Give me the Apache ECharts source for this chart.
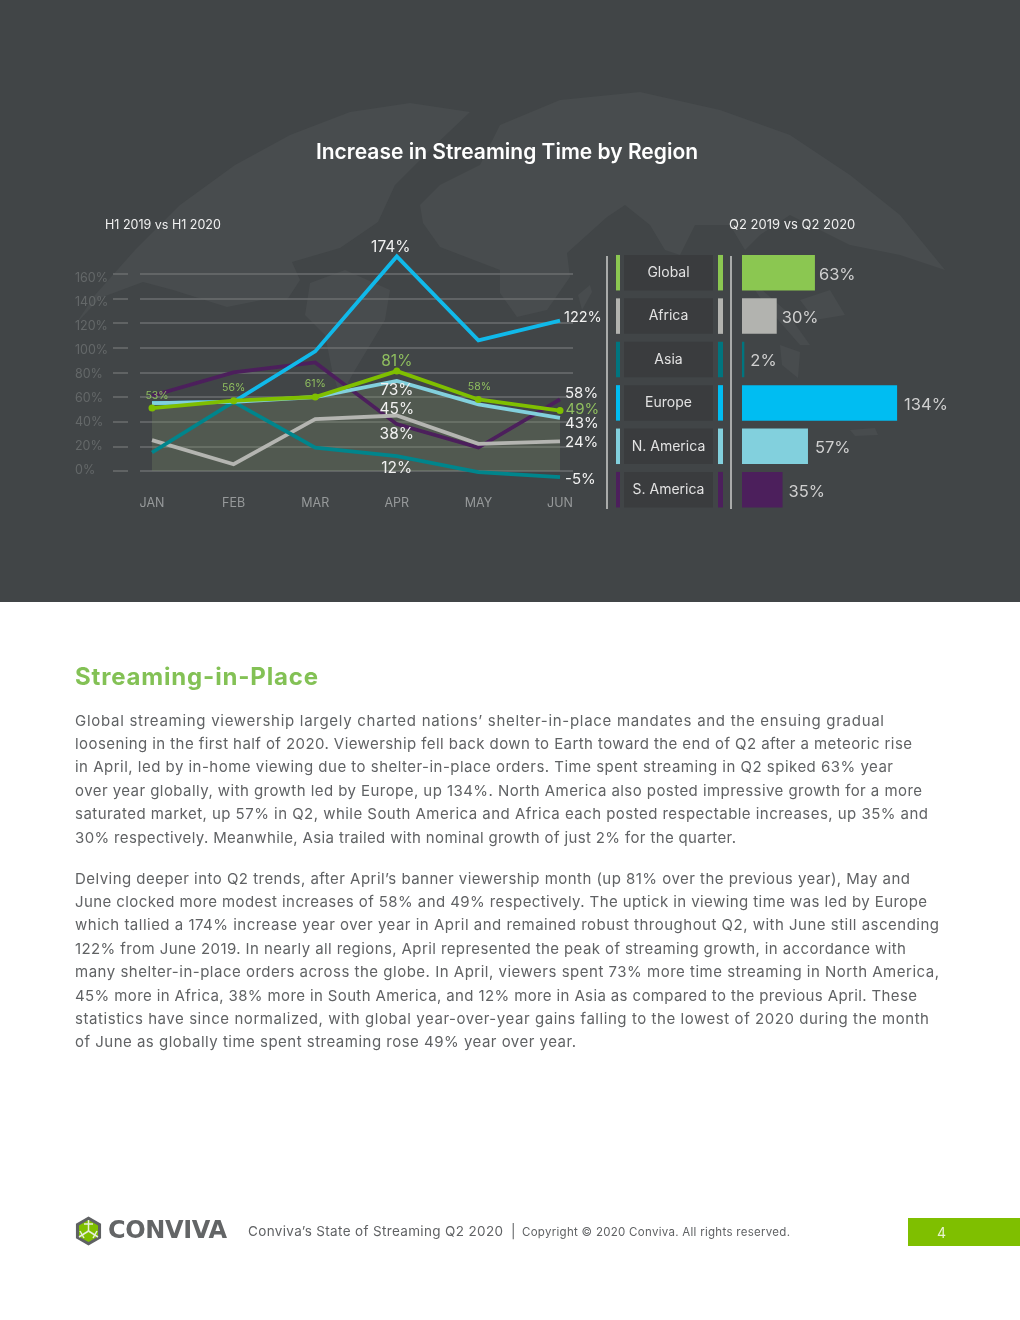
<!DOCTYPE html>
<html><head><meta charset="utf-8">
<script src="https://cdn.jsdelivr.net/npm/echarts@6/dist/echarts.min.js"></script>
<style>
html,body{margin:0;padding:0;background:#fff;width:1020px;height:1320px;overflow:hidden}
#top{position:absolute;left:0;top:0;width:1020px;height:602px;background:#414547}
#c{position:absolute;left:0;top:0;width:1020px;height:1320px}
.t{position:absolute;white-space:nowrap;font-family:Inter,"Open Sans",sans-serif;color:#606264}
</style></head><body>
<div id="top"></div>
<div id="c"></div>
<script>
const months = ['JAN','FEB','MAR','APR','MAY','JUN'];
const yTicks = [0,20,40,60,80,100,120,140,160];
const global_ = [51,57,60,81,58,49];
const nAmerica = [55,56,60,73,54,43];
const europe = [55,56,97,174,106,122];
const asia = [15,56,19,12,-1,-5];
const africa = [25,5.5,42,45,22,24];
const sAmerica = [61,80,88,38,19,58];
const globalLabels = ['53%','56%','61%','81%','58%','49%'];
const regions = ['Global','Africa','Asia','Europe','N. America','S. America'];
const q2Values = [63,30,2,134,57,35];
const regionColors = ['#8bc751','#b2b3af','#00757f','#00bdf2','#82d0dd','#4c1f5c'];
const title = 'Increase in Streaming Time by Region';
const subLeft = 'H1 2019 vs H1 2020';
const subRight = 'Q2 2019 vs Q2 2020';
const heading = 'Streaming-in-Place';
const para1 = [
'Global streaming viewership largely charted nations’ shelter-in-place mandates and the ensuing gradual',
'loosening in the first half of 2020. Viewership fell back down to Earth toward the end of Q2 after a meteoric rise',
'in April, led by in-home viewing due to shelter-in-place orders. Time spent streaming in Q2 spiked 63% year',
'over year globally, with growth led by Europe, up 134%. North America also posted impressive growth for a more',
'saturated market, up 57% in Q2, while South America and Africa each posted respectable increases, up 35% and',
'30% respectively. Meanwhile, Asia trailed with nominal growth of just 2% for the quarter.'];
const para2 = [
'Delving deeper into Q2 trends, after April’s banner viewership month (up 81% over the previous year), May and',
'June clocked more modest increases of 58% and 49% respectively. The uptick in viewing time was led by Europe',
'which tallied a 174% increase year over year in April and remained robust throughout Q2, with June still ascending',
'122% from June 2019. In nearly all regions, April represented the peak of streaming growth, in accordance with',
'many shelter-in-place orders across the globe. In April, viewers spent 73% more time streaming in North America,',
'45% more in Africa, 38% more in South America, and 12% more in Asia as compared to the previous April. These',
'statistics have since normalized, with global year-over-year gains falling to the lowest of 2020 during the month',
'of June as globally time spent streaming rose 49% year over year.'];

function addText(txt,x,cy,css,right){
  const d=document.createElement('div');d.className='t';d.textContent=txt;
  d.style.cssText='left:'+x+'px;top:'+cy+'px;transform:translateY(-50%);'+css;
  document.body.appendChild(d);
  if(right){
    const w=d.getBoundingClientRect().width;
    d.style.letterSpacing=((right-x-w)/(txt.length-1))+'px';
  }
  return d;
}
const lineYs1=[719.6,743,766.4,789.8,813.2,836.6];
const lineYs2=[877.6,901,924.4,947.8,971.2,994.6,1018,1041];
const ends1=[884,912,893,922,928,736];
const ends2=[910,927,939,906,939,917,929,576];
para1.forEach((s,i)=>addText(s,75,lineYs1[i],'font-size:15px;',ends1[i]));
para2.forEach((s,i)=>addText(s,75,lineYs2[i],'font-size:15px;',ends2[i]));
addText(heading,75,676,'font-size:24px;font-weight:700;color:#83c155;',318);
addText('CONVIVA',108,1230,'font-family:"DejaVu Sans";font-size:24px;font-weight:700;color:#636566;',227);
addText('Conviva’s State of Streaming Q2 2020',248,1230.5,'font-size:13.5px;',503);
addText('|',511,1230.5,'font-size:13.5px;');
addText('Copyright © 2020 Conviva. All rights reserved.',522,1231.5,'font-size:11.5px;',790);
const pageBox=document.createElement('div');
pageBox.style.cssText='position:absolute;left:908px;top:1218px;width:112px;height:28px;background:#7fbf00';
document.body.appendChild(pageBox);
addText('4',937,1232,'font-size:14px;color:#e9f4cf;');

const land=[
 [[410,103],[350,112],[290,135],[235,165],[180,205],[135,250],[95,295],[75,325],[100,298],[143,282],[173,290],[227,307],[262,300],[287,300],[300,280],[292,262],[340,248],[378,222],[395,185],[430,150],[470,112]],
 [[310,283],[345,270],[390,290],[385,320],[355,370],[340,397],[332,370],[325,335],[305,315]],
 [[423,223],[440,247],[500,270],[500,293],[517,317],[547,310],[570,277],[567,253],[607,217],[625,205],[650,225],[665,250],[680,255],[695,225],[730,225],[745,250],[760,235],[790,215],[850,245],[900,255],[945,270],[900,215],[850,175],[790,135],[720,110],[640,92],[560,100],[500,125],[480,165],[440,185],[420,205]],
 [[582,310],[578,295],[590,285],[592,292]],
 [[745,275],[785,310],[810,345],[800,345],[765,305]],
 [[800,300],[830,290],[845,315],[815,320]],
 [[780,345],[800,352],[798,378],[782,365]],
 [[850,430],[875,428],[878,435],[855,436]]
];
function hex(cx,cy,r){const p=[];for(let i=0;i<6;i++){const a=Math.PI/3*i+Math.PI/6;p.push([cx+r*Math.cos(a),cy+r*Math.sin(a)]);}return p;}
const graphics=[];
land.forEach(p=>graphics.push({type:'polygon',z:-5,silent:true,shape:{points:p},style:{fill:'#484c4e'}}));
graphics.push({type:'polygon',shape:{points:hex(88.5,1231,14.5)},style:{fill:'#5f6163'}});
graphics.push({type:'polygon',shape:{points:hex(88.5,1231,11)},style:{fill:'#7fbf00'}});
[[88.5,1220,88.5,1231],[88.5,1231,79,1237],[88.5,1231,98,1237],[84,1224,93,1224],[80,1231,84,1238],[97,1231,93,1238]].forEach(l=>
  graphics.push({type:'line',shape:{x1:l[0],y1:l[1],x2:l[2],y2:l[3]},style:{stroke:'#e8eede',lineWidth:1.5}}));
[607,731].forEach(x=>graphics.push({type:'line',shape:{x1:x,y1:256,x2:x,y2:509},style:{stroke:'#a9abaa',lineWidth:2}}));
graphics.push({type:'text',left:105,top:219,style:{text:subLeft,fill:'#f0f0f0',font:'400 12.5px Inter'}});
graphics.push({type:'text',left:729,top:219,style:{text:subRight,fill:'#f0f0f0',font:'400 13px Inter'}});

function lab(i,text,pos,off,size,color){return {i,text,pos,off,size,color};}
const WHITE='#f1f1f1',GRN='#8fbe5f';
const labels={
 global_:globalLabels.map((t,i)=>lab(i,t,i===5?'right':'top',[[5,1],[0,0],[0,0],[0,6],[1,0],[-2,-1]][i],i===3?15.5:(i===5?15:10.5),GRN)),
 nAmerica:[lab(3,'73%','bottom',[0,-3],15.5,WHITE),lab(5,'43%','right',[1,6],15,WHITE)],
 europe:[lab(3,'174%','top',[-6,3],15.5,WHITE),lab(5,'122%','right',[0,-3],14.5,WHITE)],
 asia:[lab(3,'12%','bottom',[0,0],15.5,WHITE),lab(5,'-5%','right',[1,2],15,WHITE)],
 africa:[lab(3,'45%','top',[0,6],15.5,WHITE),lab(5,'24%','right',[1,1],15,WHITE)],
 sAmerica:[lab(3,'38%','bottom',[0,-2],15.5,WHITE),lab(5,'58%','right',[1,-6],15,WHITE)]
};
function seriesData(values,spec){
  return values.map((v,i)=>{
    const l=spec.find(s=>s.i===i);
    return l?{value:v,label:{show:true,formatter:l.text,position:l.pos,offset:l.off,fontSize:l.size,color:l.color,distance:4,fontFamily:'Inter'}}:v;
  });
}
function line(name,values,spec,color,extra){
  return Object.assign({type:'line',name,xAxisIndex:1,yAxisIndex:1,data:seriesData(values,spec),showSymbol:true,symbol:'circle',symbolSize:0.01,
    lineStyle:{color,width:3.8,cap:'butt',join:'miter'},itemStyle:{color},animation:false,clip:false},extra||{});
}
const barLabelShift=[-1,0,1,2,2,1];
const option={
 animation:false,
 title:{text:title,left:502,top:137,textAlign:'center',textStyle:{color:'#fff',fontFamily:'Inter',fontWeight:600,fontSize:21}},
 graphic:{elements:graphics},
 grid:[
  {left:140,width:433,top:273.7,height:197.3},
  {left:152,width:408,top:273.7,height:197.3},
  {left:85,width:10,top:278,height:192},
  {left:616,width:107,top:251,height:260.4},
  {left:742,width:231.5,top:251,height:260.4},
  {left:128,width:1,top:273.7,height:197.3}
 ],
 xAxis:[
  {gridIndex:0,type:'value',show:false},
  {gridIndex:1,type:'category',data:months,boundaryGap:false,axisLine:{show:false},axisTick:{show:false},splitLine:{show:false},
   axisLabel:{color:'#96999a',fontSize:12.5,fontFamily:'Inter',margin:26,interval:0}},
  {gridIndex:2,type:'value',show:false},
  {gridIndex:3,type:'value',show:false,min:0,max:1},
  {gridIndex:4,type:'value',show:false,min:0,max:200},
  {gridIndex:5,type:'value',show:false}
 ],
 yAxis:[
  {gridIndex:0,type:'value',min:0,max:160,interval:20,axisLine:{show:false},axisLabel:{show:false},axisTick:{show:false},
   splitLine:{lineStyle:{color:'#6b6e6f',width:1.5}}},
  {gridIndex:1,type:'value',min:0,max:160,interval:20,show:false},
  {gridIndex:2,type:'value',min:0,max:160,interval:20,axisLine:{show:false},axisTick:{show:false},splitLine:{show:false},
   axisLabel:{align:'left',margin:10,color:'#646869',fontSize:12.5,fontFamily:'Inter',formatter:v=>yTicks.includes(v)?v+'%':''}},
  {gridIndex:3,type:'category',data:regions,inverse:true,show:false},
  {gridIndex:4,type:'category',data:regions,inverse:true,show:false},
  {gridIndex:5,type:'value',min:0,max:160,interval:20,axisLine:{show:false},axisLabel:{show:false},splitLine:{show:false},
   axisTick:{show:true,length:15,lineStyle:{color:'#6b6e6f',width:1.5}}}
 ],
 series:[
  line('S. America',sAmerica,labels.sAmerica,'#4c1f5c'),
  line('Africa',africa,labels.africa,'#b4b5b1'),
  line('Asia',asia,labels.asia,'#00858c'),
  line('Europe',europe,labels.europe,'#10b9ea'),
  line('N. America',nAmerica,labels.nAmerica,'#82d0dd',{areaStyle:{color:'#7f9168',opacity:.28}}),
  line('Global',global_,labels.global_,'#7fbf00',{symbolSize:7}),
  {type:'custom',xAxisIndex:3,yAxisIndex:3,silent:true,animation:false,clip:false,data:regions.map((r,i)=>[0,i]),
   renderItem:(p,api)=>{
     const idx=api.value(1);
     const o=api.coord([0,idx]);
     const x=o[0],cy=o[1],h=35.5,c=regionColors[idx];
     return {type:'group',children:[
       {type:'rect',shape:{x:x,y:cy-h/2,width:4,height:h},style:{fill:c}},
       {type:'rect',shape:{x:x+8,y:cy-h/2,width:89,height:h},style:{fill:'#3a3c3e'}},
       {type:'rect',shape:{x:x+102,y:cy-h/2,width:5,height:h},style:{fill:c}},
       {type:'text',style:{x:x+52.5,y:cy,text:regions[idx],fill:'#e2e2e2',font:'400 14px Inter',align:'center',verticalAlign:'middle'}}
     ]};
   }},
  {type:'bar',xAxisIndex:4,yAxisIndex:4,barWidth:35.5,animation:false,
   data:q2Values.map((v,i)=>({value:v,itemStyle:{color:regionColors[i]},label:{offset:[barLabelShift[i],2]}})),
   label:{show:true,position:'right',distance:5,formatter:'{c}%',color:'#d0d0d0',fontSize:16.5,fontFamily:'Inter'}}
 ]
};
echarts.init(document.getElementById('c')).setOption(option);
</script>
</body></html>
